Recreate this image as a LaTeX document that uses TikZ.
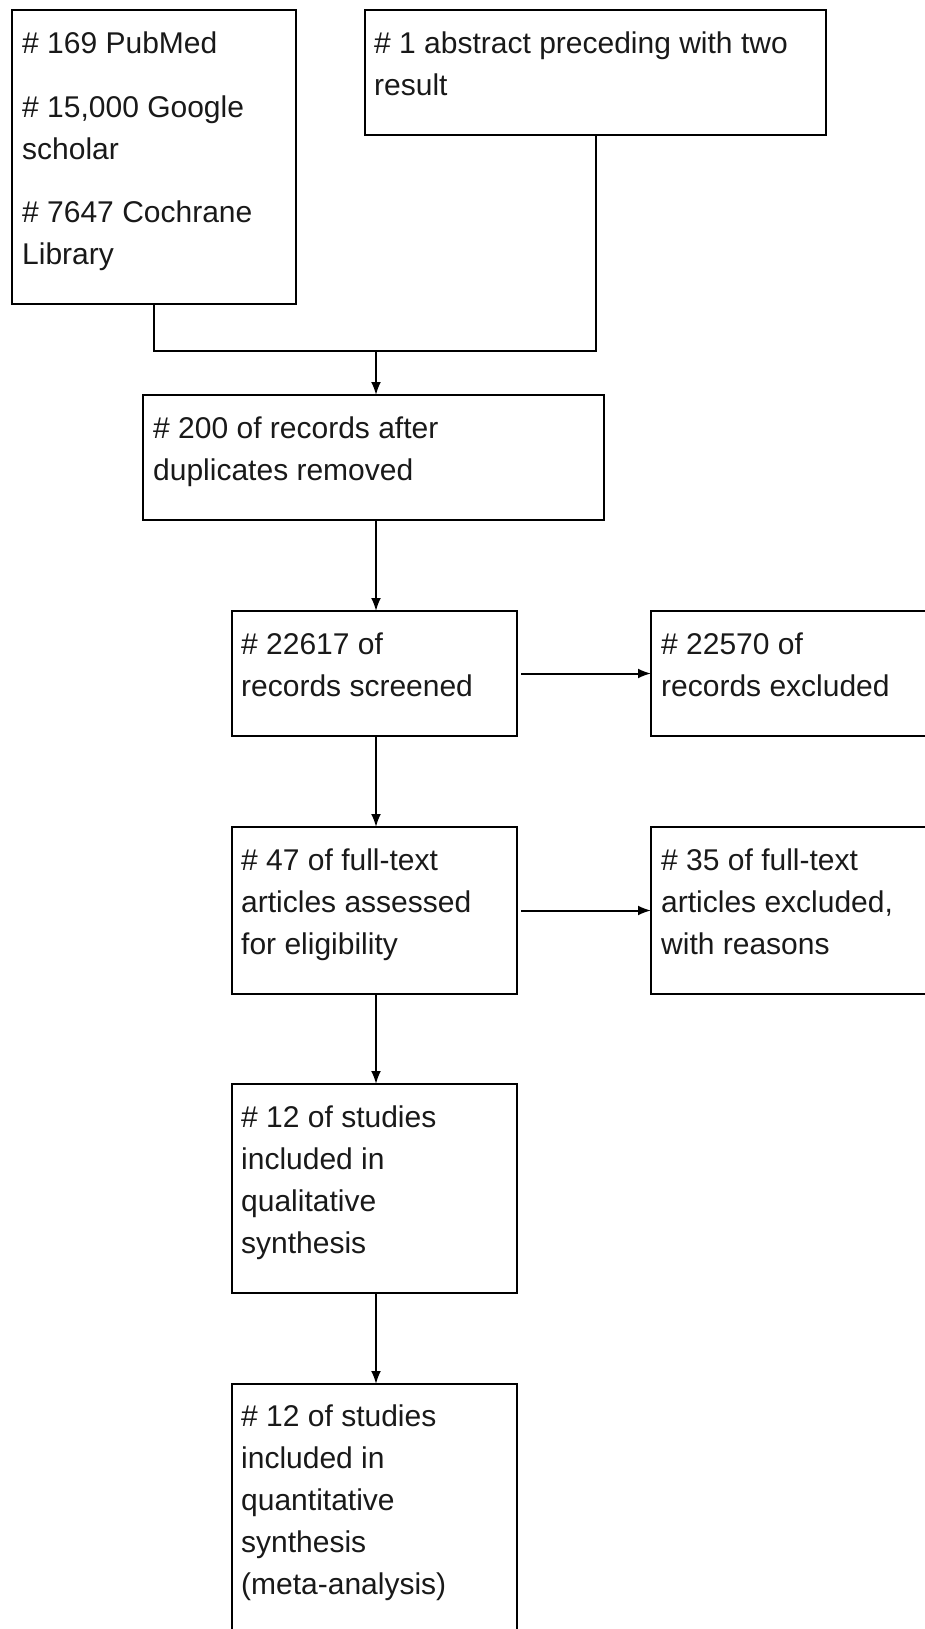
\documentclass[tikz,border=0pt]{standalone}
\usepackage{fontspec}
\setmainfont{Liberation Sans}
\usetikzlibrary{shapes.misc,arrows.meta}
\begin{document}
\begin{tikzpicture}[x=1pt,y=-1pt,
  box/.style={draw, line width=2pt, chamfered rectangle, chamfered rectangle xsep=5pt, chamfered rectangle ysep=5pt, inner sep=0pt, outer sep=0pt},
  txt/.style={anchor=north west, align=left, inner sep=0pt, font=\fontsize{30}{42}\selectfont, text=black!90},
  line/.style={line width=2pt},
  arr/.style={line width=2pt, -{Latex[length=13pt,width=10pt]}}]
\useasboundingbox (0,0) rectangle (925,1629);
\clip (0,0) rectangle (925,1629);
% boxes
\node[box, minimum width=284pt, minimum height=294pt] (b1) at (154,157) {};
\node[box, minimum width=461pt, minimum height=125pt] (b2) at (595.5,72.5) {};
\node[box, minimum width=461pt, minimum height=125pt] (b3) at (373.5,457.5) {};
\node[box, minimum width=285pt, minimum height=125pt] (b4) at (374.5,673.5) {};
\node[box, minimum width=289pt, minimum height=125pt] (b5) at (795.5,673.5) {};
\node[box, minimum width=285pt, minimum height=167pt] (b6) at (374.5,910.5) {};
\node[box, minimum width=289pt, minimum height=167pt] (b7) at (795.5,910.5) {};
\node[box, minimum width=285pt, minimum height=209pt] (b8) at (374.5,1188.5) {};
\node[box, minimum width=285pt, minimum height=276pt] (b9) at (374.5,1522) {};
% texts
\node[txt] (t1) at (22,23.6) {\strut\# 169 PubMed\\[22pt]\# 15,000 Google\\scholar\\[21pt]\# 7647 Cochrane\\Library};
\node[txt] (t2) at (374,23.6) {\strut\# 1 abstract preceding with two\\result};
\node[txt] (t3) at (153,408.6) {\strut\# 200 of records after\\duplicates removed};
\node[txt] (t4) at (241,624.6) {\strut\# 22617 of\\records screened};
\node[txt] (t5) at (661,624.6) {\strut\# 22570 of\\records excluded};
\node[txt] (t6) at (241,840.6) {\strut\# 47 of full-text\\articles assessed\\for eligibility};
\node[txt] (t7) at (661,840.6) {\strut\# 35 of full-text\\articles excluded,\\with reasons};
\node[txt] (t8) at (241,1097.6) {\strut\# 12 of studies\\included in\\qualitative\\synthesis};
\node[txt] (t9) at (241,1396.6) {\strut\# 12 of studies\\included in\\quantitative\\synthesis\\(meta-analysis)};
% connectors
\coordinate (j) at (376,351);
\draw[line] (b1.south) |- (j);
\draw[line] (b2.south) |- (j);
\draw[arr] (j) -- (j |- b3.north);
\draw[arr] (j |- b3.south) -- (j |- b4.north);
\draw[arr] ([xshift=4pt]b4.east) -- (b5.west |- b4.east);
\draw[arr] (j |- b4.south) -- (j |- b6.north);
\draw[arr] ([xshift=4pt]b6.east) -- (b7.west |- b6.east);
\draw[arr] (j |- b6.south) -- (j |- b8.north);
\draw[arr] (j |- b8.south) -- (j |- b9.north);
\end{tikzpicture}
\end{document}
